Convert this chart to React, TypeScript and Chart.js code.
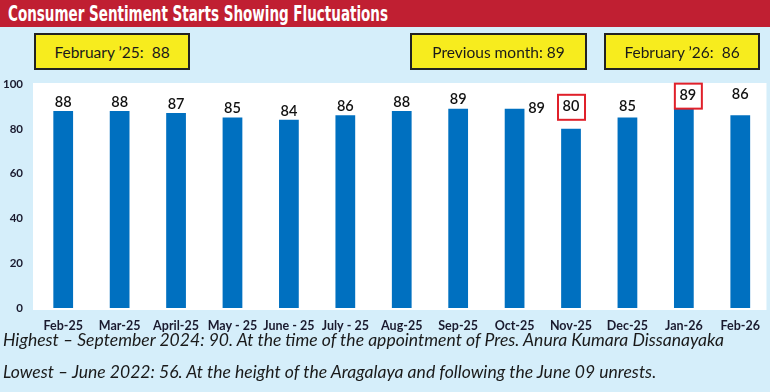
import React, { useEffect, useLayoutEffect, useRef } from "react";
import { Chart, registerables } from "chart.js";

Chart.register(...registerables);

const categories = ["Feb-25", "Mar-25", "April-25", "May - 25", "June - 25", "July - 25", "Aug-25", "Sep-25", "Oct-25", "Nov-25", "Dec-25", "Jan-26", "Feb-26"];
const sentiment = [88, 88, 87, 85, 84, 86, 88, 89, 89, 80, 85, 89, 86];
const yTicks = [0, 20, 40, 60, 80, 100];
const boxedIndices = [9, 11];

const title = "Consumer Sentiment Starts Showing Fluctuations";
const callouts = ["February \u201925:  88", "Previous month: 89", "February \u201926:  86"];
const notes = [
  "Highest \u2013 September 2024: 90. At the time of the appointment of Pres. Anura Kumara Dissanayaka",
  "Lowest \u2013 June 2022: 56. At the height of the Aragalaya and following the June 09 unrests.",
];

const FONT = "Lato, 'Open Sans', sans-serif";

const whiteArea = {
  id: "whiteArea",
  beforeDraw(chart: any) {
    const { ctx, chartArea } = chart;
    ctx.save();
    ctx.fillStyle = "#ffffff";
    ctx.fillRect(chartArea.left - 2, chartArea.top - 1, chartArea.right - chartArea.left, chartArea.bottom - chartArea.top + 3);
    ctx.restore();
  },
};

const valueLabels = {
  id: "valueLabels",
  afterDatasetsDraw(chart: any) {
    const { ctx } = chart;
    const meta = chart.getDatasetMeta(0);
    ctx.save();
    ctx.font = `600 14.5px ${FONT}`;
    ctx.fillStyle = "#111111";
    ctx.textBaseline = "middle";
    meta.data.forEach((bar: any, i: number) => {
      const v = sentiment[i];
      let x = bar.x;
      let y = bar.y - 9;
      ctx.textAlign = "center";
      if (i === 8) {
        x = bar.x + 22;
        y = bar.y;
      } else if (i === 9) {
        y = bar.y - 22;
      } else if (i === 11) {
        x = bar.x + 4;
        y = bar.y - 13;
      } else if (i === 12) {
        y = bar.y - 21;
      } else if (i === 10) {
        y = bar.y - 11;
      }
      ctx.fillText(String(v), x, y);
      if (boxedIndices.includes(i)) {
        ctx.strokeStyle = "#e0202a";
        ctx.lineWidth = 2;
        ctx.strokeRect(x - 13, y - 12, 27, 25);
      }
    });
    ctx.restore();
  },
};

export default function App() {
  const ref = useRef<HTMLCanvasElement>(null);
  const titleRef = useRef<HTMLSpanElement>(null);
  const noteRef = useRef<HTMLSpanElement>(null);
  const note2Ref = useRef<HTMLSpanElement>(null);

  useLayoutEffect(() => {
    document.body.style.margin = "0";
    const fit = (el: HTMLSpanElement | null, target: number, sx?: number) => {
      if (!el) return 1;
      const w = el.getBoundingClientRect().width;
      const s = sx ?? target / w;
      el.style.transform = `scaleX(${s})`;
      return s;
    };
    fit(titleRef.current, 380);
    const s = fit(noteRef.current, 721);
    fit(note2Ref.current, 0, s);
  }, []);

  useEffect(() => {
    const chart = new Chart(ref.current!, {
      type: "bar",
      data: {
        labels: categories,
        datasets: [
          {
            data: sentiment,
            backgroundColor: "#0070c0",
            barPercentage: 0.35,
            categoryPercentage: 1,
          },
        ],
      },
      options: {
        animation: false,
        responsive: false,
        maintainAspectRatio: false,
        layout: { padding: { top: 84, right: 0, left: 0, bottom: 0 } },
        plugins: { legend: { display: false }, tooltip: { enabled: false } },
        scales: {
          x: {
            grid: { display: false, drawTicks: false },
            border: { display: false },
            ticks: { color: "#1a1a2e", font: { family: FONT, size: 12.5, weight: "bold" }, padding: 10, maxRotation: 0, autoSkip: false },
            afterFit(scale: any) {
              scale.height = 84;
            },
          },
          y: {
            min: 0,
            max: 100,
            afterBuildTicks(scale: any) {
              scale.ticks = yTicks.map((v) => ({ value: v }));
            },
            grid: { display: false, drawTicks: false },
            border: { display: false },
            ticks: { color: "#1a1a2e", font: { family: FONT, size: 11.5, weight: "bold" }, padding: 12 },
            afterFit(scale: any) {
              scale.width = 35;
            },
          },
        },
      },
      plugins: [whiteArea, valueLabels],
    });
    return () => chart.destroy();
  }, []);

  const boxStyle = (left: number, width: number): React.CSSProperties => ({
    position: "absolute",
    left,
    top: 33,
    width,
    height: 37,
    boxSizing: "border-box",
    background: "#f7ec1e",
    border: "2px solid #222222",
    display: "flex",
    alignItems: "center",
    justifyContent: "center",
    fontFamily: FONT,
    fontSize: 15.5,
    color: "#1a1a1a",
    whiteSpace: "pre",
  });

  return (
    <div style={{ position: "relative", width: 770, height: 392, background: "#d5eefa", overflow: "hidden" }}>
      <canvas ref={ref} width={770} height={392} style={{ position: "absolute", left: 0, top: 0 }} />
      <div
        style={{
          position: "absolute",
          left: 0,
          top: 0,
          width: 770,
          height: 27,
          background: "#c01f32",
          overflow: "hidden",
        }}
      >
        <span
          ref={titleRef}
          style={{
            position: "absolute",
            left: 8,
            top: 0,
            color: "#ffffff",
            fontFamily: "'Liberation Sans Narrow', 'DejaVu Sans Condensed', sans-serif",
            fontWeight: "bold",
            fontSize: 21,
            lineHeight: "28px",
            whiteSpace: "nowrap",
            transformOrigin: "0 0",
            display: "inline-block",
          }}
        >
          {title}
        </span>
      </div>
      <div style={boxStyle(34, 156)}>{callouts[0]}</div>
      <div style={boxStyle(410, 177)}>{callouts[1]}</div>
      <div style={boxStyle(604, 156)}>{callouts[2]}</div>
      {notes.map((n, i) => (
        <span
          key={i}
          ref={i === 0 ? noteRef : note2Ref}
          style={{
            position: "absolute",
            left: 3,
            top: 329 + i * 32,
            fontFamily: FONT,
            fontStyle: "italic",
            fontSize: 17.5,
            lineHeight: "22px",
            color: "#1a1a1a",
            whiteSpace: "nowrap",
            display: "inline-block",
            transformOrigin: "0 0",
          }}
        >
          {n}
        </span>
      ))}
    </div>
  );
}
